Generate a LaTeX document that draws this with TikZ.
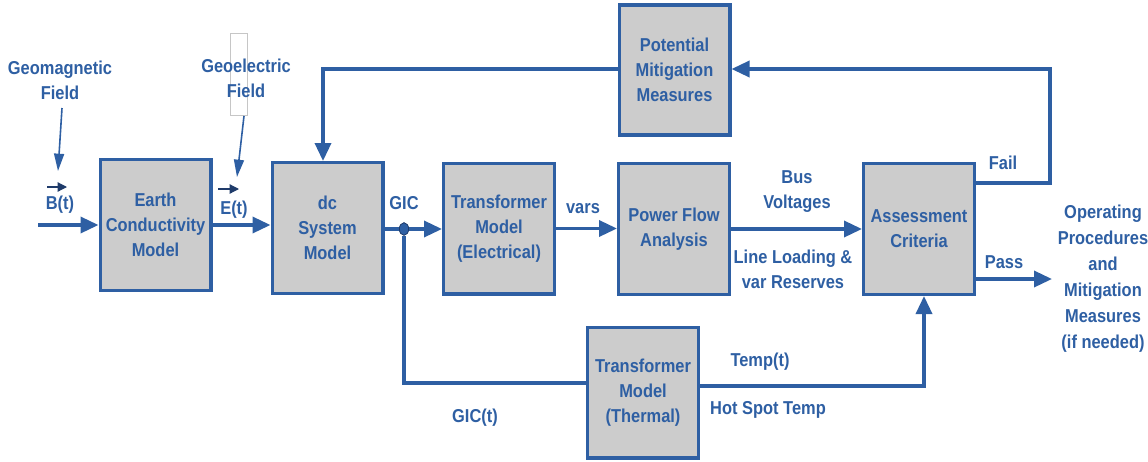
\documentclass[tikz,border=0pt]{standalone}
\usepackage{fontspec}
\setmainfont[FakeStretch=0.88]{Liberation Sans}
\usetikzlibrary{arrows.meta,shapes.geometric}
\definecolor{cblue}{HTML}{2E5FA3}
\definecolor{cgray}{HTML}{CCCCCC}
\definecolor{cdark}{HTML}{1F3B6A}
\begin{document}
\begin{tikzpicture}[x=0.75pt,y=-0.75pt,
  blk/.style={draw=cblue, fill=cgray, line width=2.5pt, minimum width=83pt, minimum height=98pt,
    font=\bfseries\fontsize{14}{18.75}\selectfont, text=cblue, align=center, inner sep=1pt},
  lbl/.style={font=\bfseries\fontsize{14}{18.75}\selectfont, text=cblue, align=center, inner sep=0pt},
  flow/.style={draw=cblue, line width=2.6pt, -{Triangle[length=13.5pt,width=12pt]}},
  link/.style={draw=cblue, line width=2.6pt},
  thin/.style={draw=cblue, line width=1.2pt, -{Triangle[length=13pt,width=7.5pt]}},
  vec/.style={draw=cdark, line width=0.9pt, -{Triangle[length=7pt,width=7pt]}}]
\useasboundingbox (0,0) rectangle (1148,461);

% boxes
\node[blk] (earth) at (155.5,225) {Earth\\Conductivity\\Model};
\node[blk] (dc) at (327.5,228) {dc\\System\\Model};
\node[blk] (tel) at (499,228.5) {Transformer\\Model\\(Electrical)};
\node[blk] (pf) at (674,229) {Power Flow\\Analysis};
\node[blk] (ac) at (919,229) {Assessment\\Criteria};
\node[blk, minimum height=97.5pt] (pmm) at (674.5,70) {Potential\\Mitigation\\Measures};
\node[blk] (th) at (643,392.5) {Transformer\\Model\\(Thermal)};

% stray frame
\draw[gray!45, line width=0.5pt] (230,33) rectangle (247,115);

% labels
\node[lbl] (gm) at (60,80.5) {Geomagnetic\\Field};
\node[lbl] (ge) at (246,78) {Geoelectric\\Field};
\node[lbl] (bt) at (60,205) {B(t)};
\node[lbl] (et) at (234,210) {E(t)};
\node[lbl] (gic) at (404,203) {GIC};
\node[lbl] (vars) at (583,209) {vars};
\node[lbl] (bus) at (797,191.5) {Bus\\Voltages};
\node[lbl] (ll) at (793,269.5) {Line Loading \&\\var Reserves};
\node[lbl] (fail) at (1003,163) {Fail};
\node[lbl] (pass) at (1004,262) {Pass};
\node[lbl, font=\bfseries\fontsize{14}{19.5}\selectfont] (op) at (1103,279) {Operating\\Procedures\\and\\Mitigation\\Measures\\(if needed)};
\node[lbl] (temp) at (760,362) {Temp(t)};
\node[lbl] (hst) at (768,410) {Hot Spot Temp};
\node[lbl] (gict) at (475,418) {GIC(t)};

% vector arrows
\coordinate (bva) at (47,187); \coordinate (bvb) at (67,187);
\coordinate (eva) at (218,189); \coordinate (evb) at (239,189);
\draw[vec] (bva) -- (bvb);
\draw[vec] (eva) -- (evb);

% thin input arrows
\coordinate (gma) at (62,108); \coordinate (gmb) at (58,171);
\coordinate (gea) at (244,116); \coordinate (geb) at (237,177);
\draw[thin] (gma) -- (gmb);
\draw[thin] (gea) -- (geb);

% main flow
\coordinate (bin) at (38,225);
\draw[flow] (bin) -- (earth.west);
\draw[flow] (earth.east) -- (earth.east -| dc.west);
\node[draw=cdark, fill=cblue, line width=0.6pt, ellipse, minimum width=7pt, minimum height=9.5pt, inner sep=0pt] (junc) at (404,229) {};
\draw[link] (dc.east |- junc) -- (junc.west);
\draw[flow] (junc.east) -- (junc -| tel.west);
\draw[flow] (tel.east) -- (tel.east -| pf.west);
\draw[flow] (pf.east) -- (pf.east -| ac.west);

% fail loop
\coordinate (fa) at (1050,183); \coordinate (fb) at (1050,69);
\draw[flow] (ac.east |- fa) -- (fa) -- (fb) -- (fb -| pmm.east);
\coordinate (fc) at (323,69);
\draw[flow] (pmm.west |- fc) -- (fc) -- (fc |- dc.north);

% pass
\coordinate (pe) at (1052,279);
\draw[flow] (ac.east |- pe) -- (pe);

% thermal branch
\coordinate (gj) at (404,383);
\draw[link] (junc.south) -- (gj) -- (gj -| th.west);
\coordinate (tc) at (924,386);
\draw[flow] (th.east |- tc) -- (tc) -- (tc |- ac.south);
\end{tikzpicture}
\end{document}
